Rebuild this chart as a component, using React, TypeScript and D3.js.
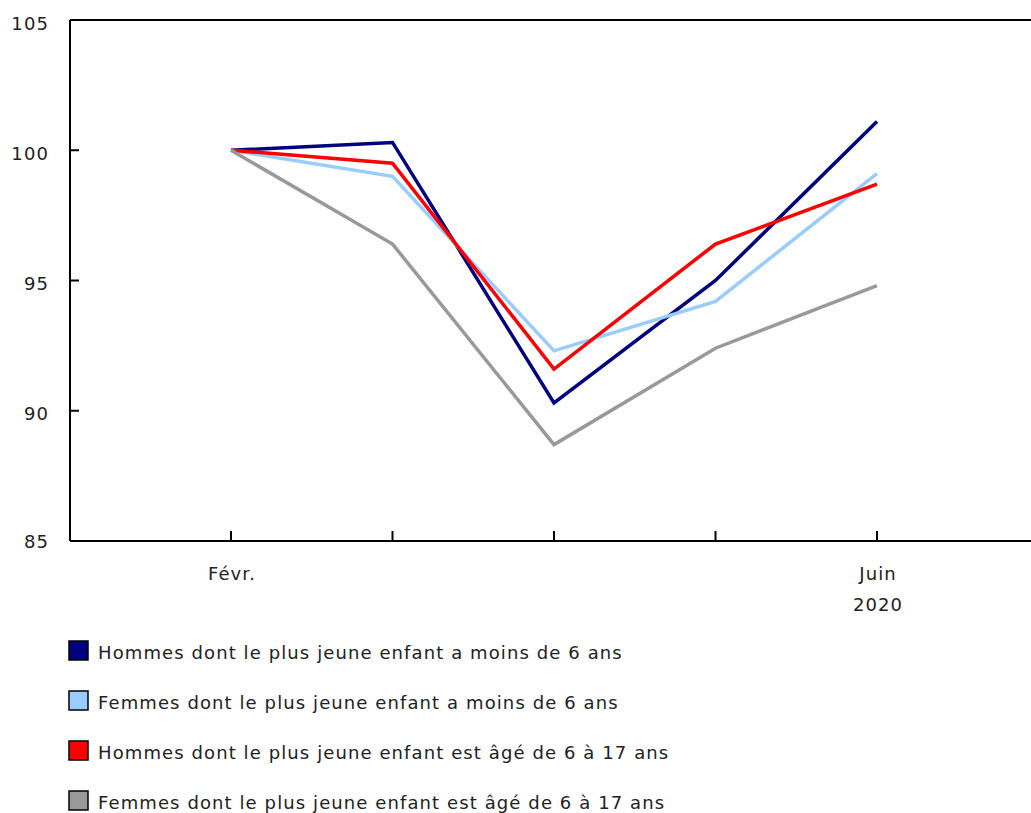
import React from "react";
import * as d3 from "d3";

const months = ["Févr.", "Mars", "Avr.", "Mai", "Juin"];
const tickLabels = ["Févr.", "", "", "", "Juin"];
const yearLabel = "2020";
const yTicks = [85, 90, 95, 100, 105];

const seriesNames = [
  "Hommes dont le plus jeune enfant a moins de 6 ans",
  "Femmes dont le plus jeune enfant a moins de 6 ans",
  "Hommes dont le plus jeune enfant est âgé de 6 à 17 ans",
  "Femmes dont le plus jeune enfant est âgé de 6 à 17 ans",
];
const hommesMoins6 = [100, 100.3, 90.3, 95.0, 101.1];
const femmesMoins6 = [100, 99.0, 92.3, 94.2, 99.1];
const hommes6a17 = [100, 99.5, 91.6, 96.4, 98.7];
const femmes6a17 = [100, 96.4, 88.7, 92.4, 94.8];
const colors = ["#000080", "#99ccff", "#ff0000", "#999999"];

const W = 1031;
const H = 813;
const left = 62;
const top = 12;
const right = 1031 - 8;
const bottom = 533;
const FONT = "'DejaVu Sans', Verdana, sans-serif";

export default function App() {
  const series = [hommesMoins6, femmesMoins6, hommes6a17, femmes6a17];
  const x = d3.scalePoint<string>().domain(months).range([223, 869]);
  const y = d3.scaleLinear().domain([85, 105]).range([bottom, top]);
  const line = d3
    .line<number>()
    .x((_, i) => x(months[i]) as number)
    .y((d) => y(d));
  const fs = 18;
  const ls = 1.1;
  return (
    <svg width={W} height={H} style={{ position: "absolute", left: 0, top: 0 }}>
      <g transform="translate(8,8)">
        <line x1={left} x2={right + 10} y1={top} y2={top} stroke="#000" strokeWidth={2} />
        <line x1={left} x2={right + 10} y1={bottom} y2={bottom} stroke="#000" strokeWidth={2} />
        <line x1={left} x2={left} y1={top} y2={bottom} stroke="#000" strokeWidth={2} />
        {yTicks.map((t, i) => (
          <g key={t}>
            <line x1={left} x2={left + 9} y1={y(t)} y2={y(t)} stroke="#000" strokeWidth={2} />
            <text x={left - 21} y={y(t) + (i === 0 ? 0 : 3)} textAnchor="end" dominantBaseline="central" fontFamily={FONT} fontSize={fs} letterSpacing={ls} fill="#222">
              {t}
            </text>
          </g>
        ))}
        {months.map((m, i) => (
          <g key={m}>
            <line x1={x(m)} x2={x(m)} y1={bottom} y2={bottom - 10} stroke="#000" strokeWidth={2} />
            {tickLabels[i] && (
              <text x={(x(m) as number) + 1} y={bottom + 32} textAnchor="middle" dominantBaseline="central" fontFamily={FONT} fontSize={fs} letterSpacing={ls} fill="#222">
                {tickLabels[i]}
              </text>
            )}
          </g>
        ))}
        <text x={(x(months[4]) as number) + 1} y={bottom + 63} textAnchor="middle" dominantBaseline="central" fontFamily={FONT} fontSize={fs} letterSpacing={ls} fill="#222">
          {yearLabel}
        </text>
        {series.map((s, i) => (
          <path key={i} d={line(s) || ""} fill="none" stroke={colors[i]} strokeWidth={3.5} />
        ))}
        {seriesNames.map((n, i) => (
          <g key={n} transform={`translate(61, ${633 + i * 50})`}>
            <rect x={0} y={0} width={19} height={19} fill={colors[i]} stroke="#000" strokeWidth={1.5} />
            <text x={29} y={11} dominantBaseline="central" fontFamily={FONT} fontSize={fs} letterSpacing={ls} fill="#222">
              {n}
            </text>
          </g>
        ))}
      </g>
    </svg>
  );
}
